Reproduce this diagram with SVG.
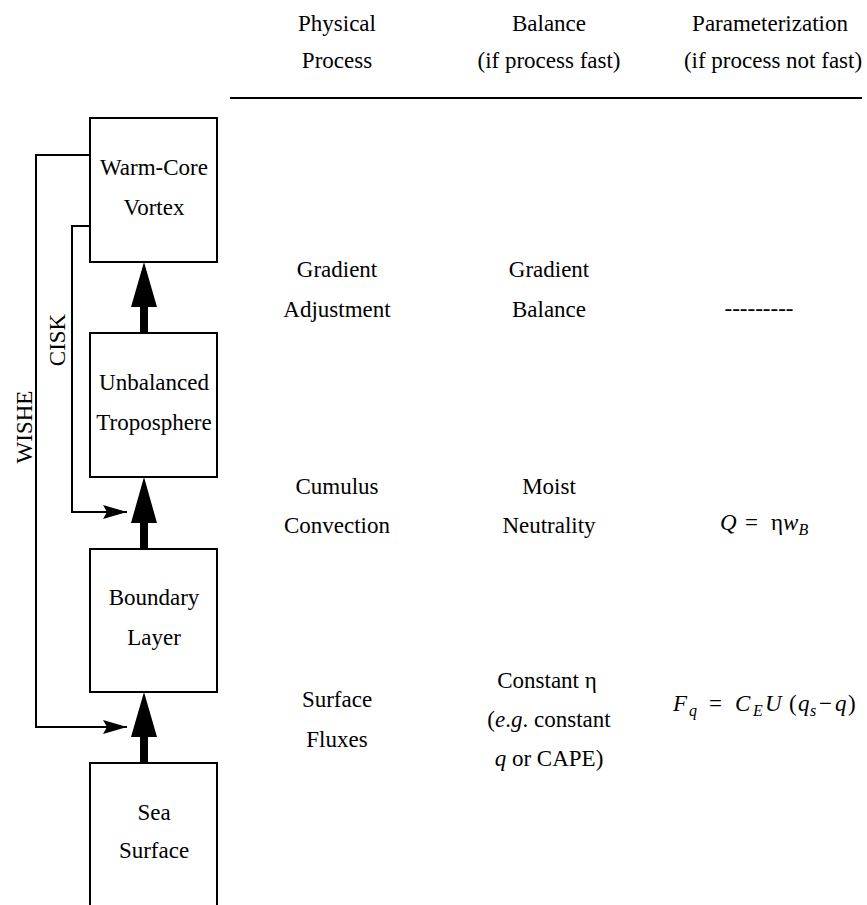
<svg xmlns="http://www.w3.org/2000/svg" width="867" height="905" viewBox="0 0 867 905">
<style>
text{font-family:"Liberation Serif","DejaVu Serif",serif;font-size:23px;fill:#000}
.c{text-anchor:middle}
.i{font-style:italic}
.sub{font-size:16px;font-style:italic}
.box{fill:#fff;stroke:#000;stroke-width:2}
.thin{fill:none;stroke:#000;stroke-width:2}
.big{fill:#000;stroke:none}
</style>
<defs>
<marker id="ah" viewBox="0 0 24 14" refX="24" refY="7" markerWidth="24" markerHeight="14" markerUnits="userSpaceOnUse" orient="auto">
<path d="M0,0 L24,7 L0,14 L4,7 Z" fill="#000"/>
</marker>
</defs>
<rect width="867" height="905" fill="#fff"/>

<g id="header">
<text class="c" x="337" y="31">Physical</text>
<text class="c" x="337" y="68">Process</text>
<text class="c" x="549" y="31">Balance</text>
<text class="c" x="549" y="68">(if process fast)</text>
<text class="c" x="770" y="31">Parameterization</text>
<text class="c" x="773" y="68">(if process not fast)</text>
<line x1="230" y1="98" x2="862" y2="98" stroke="#000" stroke-width="2"/>
</g>

<g id="connectors">
<path class="thin" d="M90,155 H36 V727 H127" marker-end="url(#ah)"/>
<path class="thin" d="M90,226 H72 V512 H127" marker-end="url(#ah)"/>
<path class="big" d="M140,333 V307 H131 L144,262 L157,307 H148 V333 Z"/>
<path class="big" d="M140,549 V523 H131 L144,477 L157,523 H148 V549 Z"/>
<path class="big" d="M140,763 V737 H131 L144,692 L157,737 H148 V763 Z"/>
<text class="c" transform="translate(32,427) rotate(-90)">WISHE</text>
<text class="c" transform="translate(65,340) rotate(-90)">CISK</text>
</g>

<g id="warm-core">
<rect class="box" x="90" y="118" width="127" height="144"/>
<text class="c" x="154" y="175">Warm-Core</text>
<text class="c" x="154" y="215">Vortex</text>
</g>
<g id="unbalanced">
<rect class="box" x="90" y="333" width="127" height="144"/>
<text class="c" x="154" y="390">Unbalanced</text>
<text class="c" x="154" y="430">Troposphere</text>
</g>
<g id="boundary">
<rect class="box" x="90" y="549" width="127" height="143"/>
<text class="c" x="154" y="605">Boundary</text>
<text class="c" x="154" y="645">Layer</text>
</g>
<g id="sea">
<rect class="box" x="90" y="763" width="127" height="160"/>
<text class="c" x="154" y="820">Sea</text>
<text class="c" x="154" y="858">Surface</text>
</g>

<g id="row-gradient">
<text class="c" x="337" y="277">Gradient</text>
<text class="c" x="337" y="317">Adjustment</text>
<text class="c" x="549" y="277">Gradient</text>
<text class="c" x="549" y="317">Balance</text>
<text class="c" x="759" y="316">---------</text>
</g>

<g id="row-cumulus">
<text class="c" x="337" y="494">Cumulus</text>
<text class="c" x="337" y="533">Convection</text>
<text class="c" x="549" y="494">Moist</text>
<text class="c" x="549" y="533">Neutrality</text>
<text y="530"><tspan x="720" class="i">Q</tspan><tspan x="745">=</tspan><tspan x="771">η</tspan><tspan class="i">w</tspan><tspan class="sub" dy="5">B</tspan></text>
</g>

<g id="row-surface">
<text class="c" x="337" y="707">Surface</text>
<text class="c" x="337" y="747">Fluxes</text>
<text class="c" x="547" y="688">Constant η</text>
<text class="c" x="549" y="727">(<tspan class="i">e</tspan>.<tspan class="i">g</tspan>. constant</text>
<text class="c" x="549" y="766"><tspan class="i">q</tspan> or CAPE)</text>
<text y="711"><tspan x="673" class="i">F</tspan><tspan class="sub" x="689" dy="5">q</tspan><tspan x="709" dy="-5">=</tspan><tspan x="735" class="i">C</tspan><tspan class="sub" x="753" dy="5">E</tspan><tspan class="i" x="765" dy="-5">U</tspan><tspan x="789">(</tspan><tspan class="i" x="798">q</tspan><tspan class="sub" x="810" dy="5">s</tspan><tspan x="819" dy="-5">−</tspan><tspan x="835" class="i">q</tspan><tspan x="848">)</tspan></text>
</g>
</svg>
